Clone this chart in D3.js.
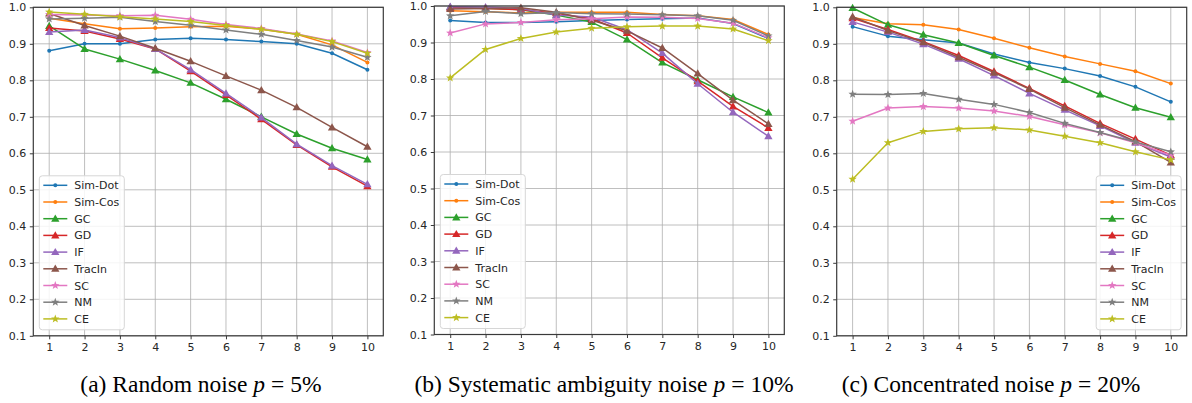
<!DOCTYPE html>
<html>
<head>
<meta charset="utf-8">
<script src="https://cdn.jsdelivr.net/npm/d3@7"></script>
<style>
  body { margin: 0; background: #fff; }
  svg { display: block; }
  .tick-label { font-family: "DejaVu Sans", sans-serif; font-size: 11px; fill: #262626; }
  .legend-label { font-family: "DejaVu Sans", sans-serif; font-size: 11px; fill: #262626; }
  .caption { font-family: "Liberation Serif", "Times New Roman", serif; font-size: 23.5px; fill: #000; }
</style>
</head>
<body>
<svg id="chart" width="1192" height="403"></svg>
<script>
// x values (top-k) and y ticks
const steps = [1, 2, 3, 4, 5, 6, 7, 8, 9, 10];
const yTicks = [0.1, 0.2, 0.3, 0.4, 0.5, 0.6, 0.7, 0.8, 0.9, 1.0];

const methods = ['Sim-Dot', 'Sim-Cos', 'GC', 'GD', 'IF', 'TracIn', 'SC', 'NM', 'CE'];
const colors = ['#1f77b4', '#ff7f0e', '#2ca02c', '#d62728', '#9467bd', '#8c564b', '#e377c2', '#7f7f7f', '#bcbd22'];
const markers = ['dot', 'dot', 'tri', 'tri', 'tri', 'tri', 'star', 'star', 'star'];

// (a) Random noise p = 5%
const randomNoise = [
  [0.881, 0.900, 0.900, 0.912, 0.915, 0.912, 0.906, 0.900, 0.874, 0.829],
  [0.970, 0.955, 0.941, 0.943, 0.947, 0.948, 0.940, 0.926, 0.897, 0.849],
  [0.949, 0.886, 0.858, 0.827, 0.793, 0.748, 0.700, 0.653, 0.614, 0.583],
  [0.943, 0.935, 0.913, 0.886, 0.825, 0.760, 0.693, 0.623, 0.563, 0.510],
  [0.932, 0.938, 0.917, 0.886, 0.829, 0.764, 0.698, 0.625, 0.566, 0.515],
  [0.983, 0.950, 0.921, 0.888, 0.852, 0.812, 0.773, 0.726, 0.671, 0.618],
  [0.980, 0.979, 0.977, 0.978, 0.967, 0.953, 0.942, 0.927, 0.908, 0.876],
  [0.968, 0.970, 0.973, 0.961, 0.951, 0.938, 0.926, 0.909, 0.891, 0.863],
  [0.987, 0.981, 0.974, 0.968, 0.961, 0.950, 0.940, 0.926, 0.906, 0.874]
];

// (b) Systematic ambiguity noise p = 10%
const systematicNoise = [
  [0.960, 0.955, 0.955, 0.957, 0.960, 0.963, 0.965, 0.967, 0.952, 0.911],
  [0.987, 0.984, 0.981, 0.983, 0.983, 0.983, 0.977, 0.973, 0.963, 0.922],
  [0.997, 0.994, 0.990, 0.975, 0.956, 0.908, 0.845, 0.798, 0.751, 0.708],
  [0.995, 0.993, 0.990, 0.980, 0.965, 0.926, 0.858, 0.794, 0.725, 0.666],
  [0.998, 0.997, 0.993, 0.975, 0.970, 0.935, 0.871, 0.787, 0.709, 0.643],
  [0.992, 0.993, 0.995, 0.983, 0.961, 0.932, 0.885, 0.815, 0.742, 0.677],
  [0.926, 0.951, 0.955, 0.962, 0.965, 0.970, 0.969, 0.966, 0.953, 0.913],
  [0.973, 0.985, 0.979, 0.982, 0.979, 0.978, 0.976, 0.973, 0.961, 0.918],
  [0.803, 0.881, 0.911, 0.929, 0.939, 0.943, 0.945, 0.945, 0.937, 0.905]
];

// (c) Concentrated noise p = 20%
const concentratedNoise = [
  [0.947, 0.921, 0.911, 0.902, 0.872, 0.849, 0.832, 0.812, 0.782, 0.741],
  [0.972, 0.955, 0.952, 0.939, 0.915, 0.889, 0.865, 0.845, 0.825, 0.791],
  [0.998, 0.952, 0.925, 0.902, 0.868, 0.836, 0.801, 0.761, 0.725, 0.699],
  [0.970, 0.939, 0.906, 0.868, 0.824, 0.778, 0.730, 0.682, 0.639, 0.595],
  [0.960, 0.932, 0.899, 0.859, 0.813, 0.764, 0.719, 0.675, 0.629, 0.590],
  [0.974, 0.936, 0.904, 0.863, 0.821, 0.776, 0.725, 0.678, 0.632, 0.575],
  [0.688, 0.724, 0.728, 0.724, 0.716, 0.701, 0.678, 0.656, 0.629, 0.595],
  [0.762, 0.761, 0.764, 0.748, 0.734, 0.712, 0.682, 0.657, 0.631, 0.604],
  [0.529, 0.629, 0.660, 0.667, 0.670, 0.664, 0.647, 0.629, 0.604, 0.582]
];

const panels = [
  { data: randomNoise, left: 33.3, top: 7.3, legend: 'left', label: '(a) Random noise ', p: '5%', cx: 201 },
  { data: systematicNoise, left: 434.3, top: 6, legend: 'left', label: '(b) Systematic ambiguity noise ', p: '10%', cx: 604 },
  { data: concentratedNoise, left: 836.7, top: 7.3, legend: 'right', label: '(c) Concentrated noise ', p: '20%', cx: 991 }
];

const plotW = 350;
const plotH = 328.5;

const svg = d3.select('#chart');

function starPath(r) {
  const pts = [];
  for (let i = 0; i < 10; i++) {
    const rr = i % 2 === 0 ? r : r * 0.42;
    const a = -Math.PI / 2 + i * Math.PI / 5;
    pts.push([rr * Math.cos(a), rr * Math.sin(a)]);
  }
  return 'M' + pts.map(p => p.join(',')).join('L') + 'Z';
}

function drawMarker(sel, kind, color) {
  if (kind === 'dot') {
    sel.append('circle').attr('r', 2).attr('fill', color);
  } else if (kind === 'tri') {
    sel.append('path').attr('d', d3.symbol(d3.symbolTriangle, 30)()).attr('fill', color)
      .attr('transform', 'translate(0,0.6)');
  } else {
    sel.append('path').attr('d', starPath(4.4)).attr('fill', color);
  }
}

panels.forEach(panel => {
  const x = d3.scaleLinear().domain([0.55, 10.45]).range([panel.left, panel.left + plotW]);
  const y = d3.scaleLinear().domain([0.1, 1.0]).range([panel.top + plotH, panel.top]);
  const g = svg.append('g');

  // grid
  g.append('g').selectAll('line').data(steps).join('line')
    .attr('x1', d => x(d)).attr('x2', d => x(d))
    .attr('y1', panel.top).attr('y2', panel.top + plotH)
    .attr('stroke', '#b0b0b0').attr('stroke-width', 1).attr('opacity', 0.8);
  g.append('g').selectAll('line').data(yTicks).join('line')
    .attr('x1', panel.left).attr('x2', panel.left + plotW)
    .attr('y1', d => y(d)).attr('y2', d => y(d))
    .attr('stroke', '#b0b0b0').attr('stroke-width', 1).attr('opacity', 0.8);

  // series
  const line = d3.line().x((d, i) => x(steps[i])).y(d => y(d));
  panel.data.forEach((vals, k) => {
    g.append('path').datum(vals)
      .attr('d', line)
      .attr('fill', 'none')
      .attr('stroke', colors[k])
      .attr('stroke-width', 1.5)
      .attr('stroke-linejoin', 'round');
    vals.forEach((v, i) => {
      const m = g.append('g').attr('transform', `translate(${x(steps[i])},${y(v)})`);
      drawMarker(m, markers[k], colors[k]);
    });
  });

  // spines
  g.append('rect')
    .attr('x', panel.left).attr('y', panel.top)
    .attr('width', plotW).attr('height', plotH)
    .attr('fill', 'none').attr('stroke', '#3a3a3a').attr('stroke-width', 1.2);

  // axes ticks
  const xAxis = g.append('g').attr('transform', `translate(0,${panel.top + plotH})`)
    .call(d3.axisBottom(x).tickValues(steps).tickSize(3.5).tickPadding(4).tickFormat(d3.format('d')));
  const yAxis = g.append('g').attr('transform', `translate(${panel.left},0)`)
    .call(d3.axisLeft(y).tickValues(yTicks).tickSize(3.5).tickPadding(3.5).tickFormat(d3.format('.1f')));
  [xAxis, yAxis].forEach(ax => {
    ax.select('.domain').remove();
    ax.selectAll('.tick line').attr('stroke', '#3a3a3a').attr('stroke-width', 1);
    ax.selectAll('.tick text').attr('class', 'tick-label').attr('fill', null);
  });

  // legend
  const lw = 85, lh = 154;
  const lx = panel.legend === 'left' ? panel.left + 6 : panel.left + plotW - 5.5 - lw;
  const ly = panel.top + plotH - 6 - lh;
  const leg = g.append('g').attr('transform', `translate(${lx},${ly})`);
  leg.append('rect').attr('width', lw).attr('height', lh).attr('rx', 3)
    .attr('fill', '#fff').attr('fill-opacity', 0.85)
    .attr('stroke', '#d6d6d6').attr('stroke-width', 1);
  methods.forEach((name, k) => {
    const row = leg.append('g').attr('transform', `translate(0,${9.5 + k * 16.7})`);
    row.append('line').attr('x1', 4).attr('x2', 28).attr('y1', 0).attr('y2', 0)
      .attr('stroke', colors[k]).attr('stroke-width', 1.5);
    drawMarker(row.append('g').attr('transform', 'translate(16,0)'), markers[k], colors[k]);
    row.append('text').attr('class', 'legend-label').attr('x', 35).attr('y', 4).text(name);
  });

  // caption (math-style spacing around "=")
  const cap = svg.append('text').attr('class', 'caption')
    .attr('x', panel.cx).attr('y', 392).attr('text-anchor', 'middle');
  cap.append('tspan').text(panel.label);
  cap.append('tspan').attr('font-style', 'italic').text('p');
  cap.append('tspan').attr('dx', 6).text('=');
  cap.append('tspan').attr('dx', 6).text(panel.p);
});
</script>
</body>
</html>
